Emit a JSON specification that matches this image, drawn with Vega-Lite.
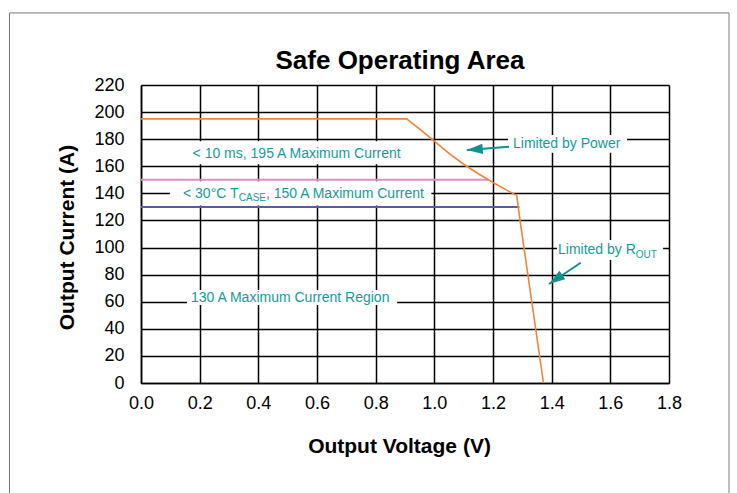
{
  "$schema": "https://vega.github.io/schema/vega-lite/v6.json",
  "autosize": {"type": "none"},
  "padding": {"left": 141, "top": 85, "right": 68, "bottom": 110},
  "width": 528,
  "height": 298,
  "background": "white",
  "config": {
    "view": {"stroke": null},
    "font": "Liberation Sans",
    "axis": {
      "grid": true,
      "gridColor": "#000000",
      "gridWidth": 1.5,
      "gridOpacity": 1,
      "domainColor": "#000000",
      "domainWidth": 1.5,
      "ticks": false,
      "labelFlush": false,
      "labelOverlap": false,
      "labelFont": "Liberation Sans",
      "labelFontSize": 18,
      "labelColor": "#000000",
      "titleFont": "Liberation Sans",
      "titleFontSize": 21,
      "titleFontWeight": "bold",
      "titleColor": "#000000"
    }
  },
  "title": {
    "text": "Safe Operating Area",
    "font": "Liberation Sans",
    "fontSize": 26,
    "fontWeight": "bold",
    "color": "#000000",
    "baseline": "alphabetic",
    "offset": -83,
    "dx": -5
  },
  "datasets": {
    "soa": [
      {"v": 0.0, "i": 195},
      {"v": 0.906, "i": 195},
      {"v": 0.95, "i": 187.5},
      {"v": 1.0, "i": 178.5},
      {"v": 1.05, "i": 169.5},
      {"v": 1.1, "i": 161.5},
      {"v": 1.15, "i": 154.5},
      {"v": 1.2, "i": 148},
      {"v": 1.25, "i": 142},
      {"v": 1.281, "i": 138.5},
      {"v": 1.292, "i": 120.3},
      {"v": 1.372, "i": 0}
    ],
    "limits": [
      {"series": "150 A", "v": 0.0, "i": 150},
      {"series": "150 A", "v": 1.183, "i": 150},
      {"series": "130 A", "v": 0.0, "i": 130},
      {"series": "130 A", "v": 1.29, "i": 130}
    ],
    "boxes": [
      {"v1": 0.16, "v2": 0.93, "i1": 161.5, "i2": 178.5},
      {"v1": 0.099, "v2": 0.99, "i1": 131, "i2": 149},
      {"v1": 0.157, "v2": 0.873, "i1": 57.6, "i2": 68.6},
      {"v1": 1.251, "v2": 1.657, "i1": 170, "i2": 183},
      {"v1": 1.418, "v2": 1.78, "i1": 90.8, "i2": 105.5}
    ],
    "labels": [
      {"text": "< 10 ms, 195 A Maximum Current", "v": 0.1759, "i": 165.8},
      {"text": "< 30°C T", "v": 0.1432, "i": 136.9},
      {"text": ", 150 A Maximum Current", "v": 0.4261, "i": 136.9},
      {"text": "130 A Maximum Current Region", "v": 0.1705, "i": 59.6},
      {"text": "Limited by Power", "v": 1.2682, "i": 173.2},
      {"text": "Limited by R", "v": 1.4216, "i": 95.0}
    ],
    "subs": [
      {"text": "CASE", "v": 0.3334, "i": 134.3},
      {"text": "OUT", "v": 1.6868, "i": 92.4}
    ],
    "arrows": [
      {"name": "power", "tail_v": 1.2547, "tail_i": 174.4, "tip_v": 1.1105, "tip_i": 171.96},
      {"name": "rout", "tail_v": 1.499, "tail_i": 88.8, "tip_v": 1.391, "tip_i": 73.1}
    ]
  },
  "layer": [
    {
      "data": {"values": [{}]},
      "mark": {"type": "rect", "fill": null, "stroke": "#7a7a7a", "strokeWidth": 1, "clip": false},
      "encoding": {
        "x": {"datum": -0.4483, "type": "quantitative", "scale": {"domain": [0, 1.8], "nice": false, "zero": false}},
        "x2": {"datum": 2.0046},
        "y": {"datum": 273.2, "type": "quantitative", "scale": {"domain": [0, 220], "nice": false, "zero": false}},
        "y2": {"datum": -90}
      }
    },
    {
      "data": {"name": "boxes"},
      "mark": {"type": "rect", "fill": "white", "stroke": null},
      "encoding": {
        "x": {"field": "v1", "type": "quantitative"},
        "x2": {"field": "v2"},
        "y": {"field": "i1", "type": "quantitative"},
        "y2": {"field": "i2"}
      }
    },
    {
      "data": {"name": "limits"},
      "mark": {"type": "line", "strokeWidth": 2},
      "encoding": {
        "x": {"field": "v", "type": "quantitative", "scale": {"domain": [0, 1.8], "nice": false, "zero": false},
          "axis": {"values": [0, 0.2, 0.4, 0.6, 0.8, 1.0, 1.2, 1.4, 1.6, 1.8], "tickCount": 20, "format": ".1f", "labelPadding": 11, "labelBaseline": "top",
            "title": "Output Voltage (V)", "titleX": 258, "titleY": 69, "titleBaseline": "alphabetic", "titleAlign": "center"}},
        "y": {"field": "i", "type": "quantitative", "scale": {"domain": [0, 220], "nice": false, "zero": false},
          "axis": {"values": [0, 20, 40, 60, 80, 100, 120, 140, 160, 180, 200, 220], "tickCount": 20, "labelPadding": 17,
            "title": "Output Current (A)", "titleX": -68, "titleY": 152, "titleAngle": -90, "titleBaseline": "alphabetic", "titleAlign": "center"}},
        "color": {"field": "series", "type": "nominal", "scale": {"domain": ["150 A", "130 A"], "range": ["#d98fc4", "#5a5ca3"]}, "legend": null}
      }
    },
    {
      "data": {"name": "soa"},
      "mark": {"type": "line", "color": "#f2843a", "strokeWidth": 1.6},
      "encoding": {
        "x": {"field": "v", "type": "quantitative"},
        "y": {"field": "i", "type": "quantitative"},
        "order": {"field": "v", "type": "quantitative"}
      }
    },
    {
      "data": {"name": "labels"},
      "mark": {"type": "text", "align": "left", "baseline": "alphabetic", "fontSize": 14, "font": "Liberation Sans", "color": "#159a9a"},
      "encoding": {
        "x": {"field": "v", "type": "quantitative"},
        "y": {"field": "i", "type": "quantitative"},
        "text": {"field": "text"}
      }
    },
    {
      "data": {"name": "subs"},
      "mark": {"type": "text", "align": "left", "baseline": "alphabetic", "fontSize": 10, "font": "Liberation Sans", "color": "#159a9a"},
      "encoding": {
        "x": {"field": "v", "type": "quantitative"},
        "y": {"field": "i", "type": "quantitative"},
        "text": {"field": "text"}
      }
    },
    {
      "data": {"name": "arrows"},
      "mark": {"type": "rule", "color": "#138f8f", "strokeWidth": 2},
      "encoding": {
        "x": {"field": "tail_v", "type": "quantitative"},
        "x2": {"field": "tip_v"},
        "y": {"field": "tail_i", "type": "quantitative"},
        "y2": {"field": "tip_i"}
      }
    },
    {
      "data": {"name": "arrows"},
      "transform": [{"filter": "datum.name === 'power'"}],
      "mark": {"type": "point", "shape": "M0,0L0.65,2L-0.65,2Z", "size": 256, "filled": true, "color": "#138f8f", "opacity": 1, "angle": 265.5},
      "encoding": {
        "x": {"field": "tip_v", "type": "quantitative"},
        "y": {"field": "tip_i", "type": "quantitative"}
      }
    },
    {
      "data": {"name": "arrows"},
      "transform": [{"filter": "datum.name === 'rout'"}],
      "mark": {"type": "point", "shape": "M0,0L0.65,2L-0.65,2Z", "size": 256, "filled": true, "color": "#138f8f", "opacity": 1, "angle": 236.1},
      "encoding": {
        "x": {"field": "tip_v", "type": "quantitative"},
        "y": {"field": "tip_i", "type": "quantitative"}
      }
    }
  ]
}
